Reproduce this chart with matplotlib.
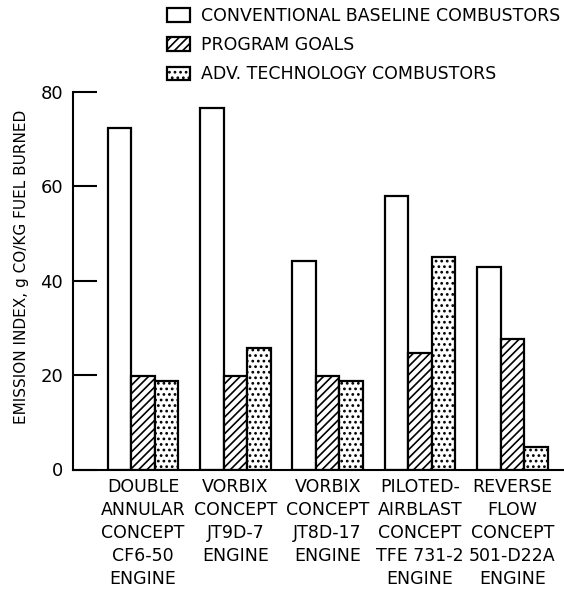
import matplotlib
matplotlib.use("Agg")
import matplotlib.pyplot as plt
from matplotlib.patches import Patch
import numpy as np

categories = [
    "DOUBLE\nANNULAR\nCONCEPT\nCF6-50\nENGINE",
    "VORBIX\nCONCEPT\nJT9D-7\nENGINE",
    "VORBIX\nCONCEPT\nJT8D-17\nENGINE",
    "PILOTED-\nAIRBLAST\nCONCEPT\nTFE 731-2\nENGINE",
    "REVERSE\nFLOW\nCONCEPT\n501-D22A\nENGINE",
]
baseline = [72.4, 76.5, 44.2, 58.0, 42.8]
goals = [19.8, 19.7, 19.7, 24.6, 27.6]
advanced = [18.8, 25.7, 18.8, 44.9, 4.8]
series_labels = ["CONVENTIONAL BASELINE COMBUSTORS", "PROGRAM GOALS",
                 "ADV. TECHNOLOGY COMBUSTORS"]
yticks = [0, 20, 40, 60, 80]

plt.rcParams['font.family'] = ['DejaVu Sans']
plt.rcParams['hatch.linewidth'] = 1.2

fig = plt.figure(figsize=(5.64, 5.94), dpi=100)
ax = fig.add_axes([72.7/564, 1 - 469.5/594, 1 - 72.7/564, (469.5 - 91.7)/594])

x = np.arange(len(categories))
w = 0.255
lw = 1.6
ax.bar(x - w, baseline, w, color='white', edgecolor='black', linewidth=lw)
ax.bar(x, goals, w, color='white', edgecolor='black', linewidth=lw, hatch='////')
ax.bar(x + w, advanced, w, color='white', edgecolor='black', linewidth=lw, hatch='...')

ax.set_xlim(-0.762, 4.56)
ax.set_ylim(0, 80)
ax.spines['top'].set_visible(False)
ax.spines['right'].set_visible(False)
ax.spines['left'].set_linewidth(1.5)
ax.spines['bottom'].set_linewidth(1.5)

ax.set_yticks(yticks)
ax.set_yticklabels([str(v) for v in yticks], fontsize=13)
ax.tick_params(axis='y', direction='in', length=17, width=1.5, pad=7)
ax.set_xticks(x)
ax.set_xticklabels(categories, fontsize=12.5, linespacing=1.36, va='top')
ax.tick_params(axis='x', length=0, pad=6)

ax.set_ylabel("EMISSION INDEX, g CO/KG FUEL BURNED", fontsize=11)
ax.yaxis.set_label_coords(-0.088, 0.536)

handles = [
    Patch(facecolor='white', edgecolor='black', linewidth=lw),
    Patch(facecolor='white', edgecolor='black', linewidth=lw, hatch='////'),
    Patch(facecolor='white', edgecolor='black', linewidth=lw, hatch='...'),
]
fig.legend(handles, series_labels, loc='upper left',
           bbox_to_anchor=(167/564, 1 - 7/594), frameon=False,
           fontsize=12.5, borderpad=0, borderaxespad=0,
           handlelength=1.35, handleheight=0.8, handletextpad=0.6,
           labelspacing=0.64)

fig.savefig("out.png", dpi=100)
